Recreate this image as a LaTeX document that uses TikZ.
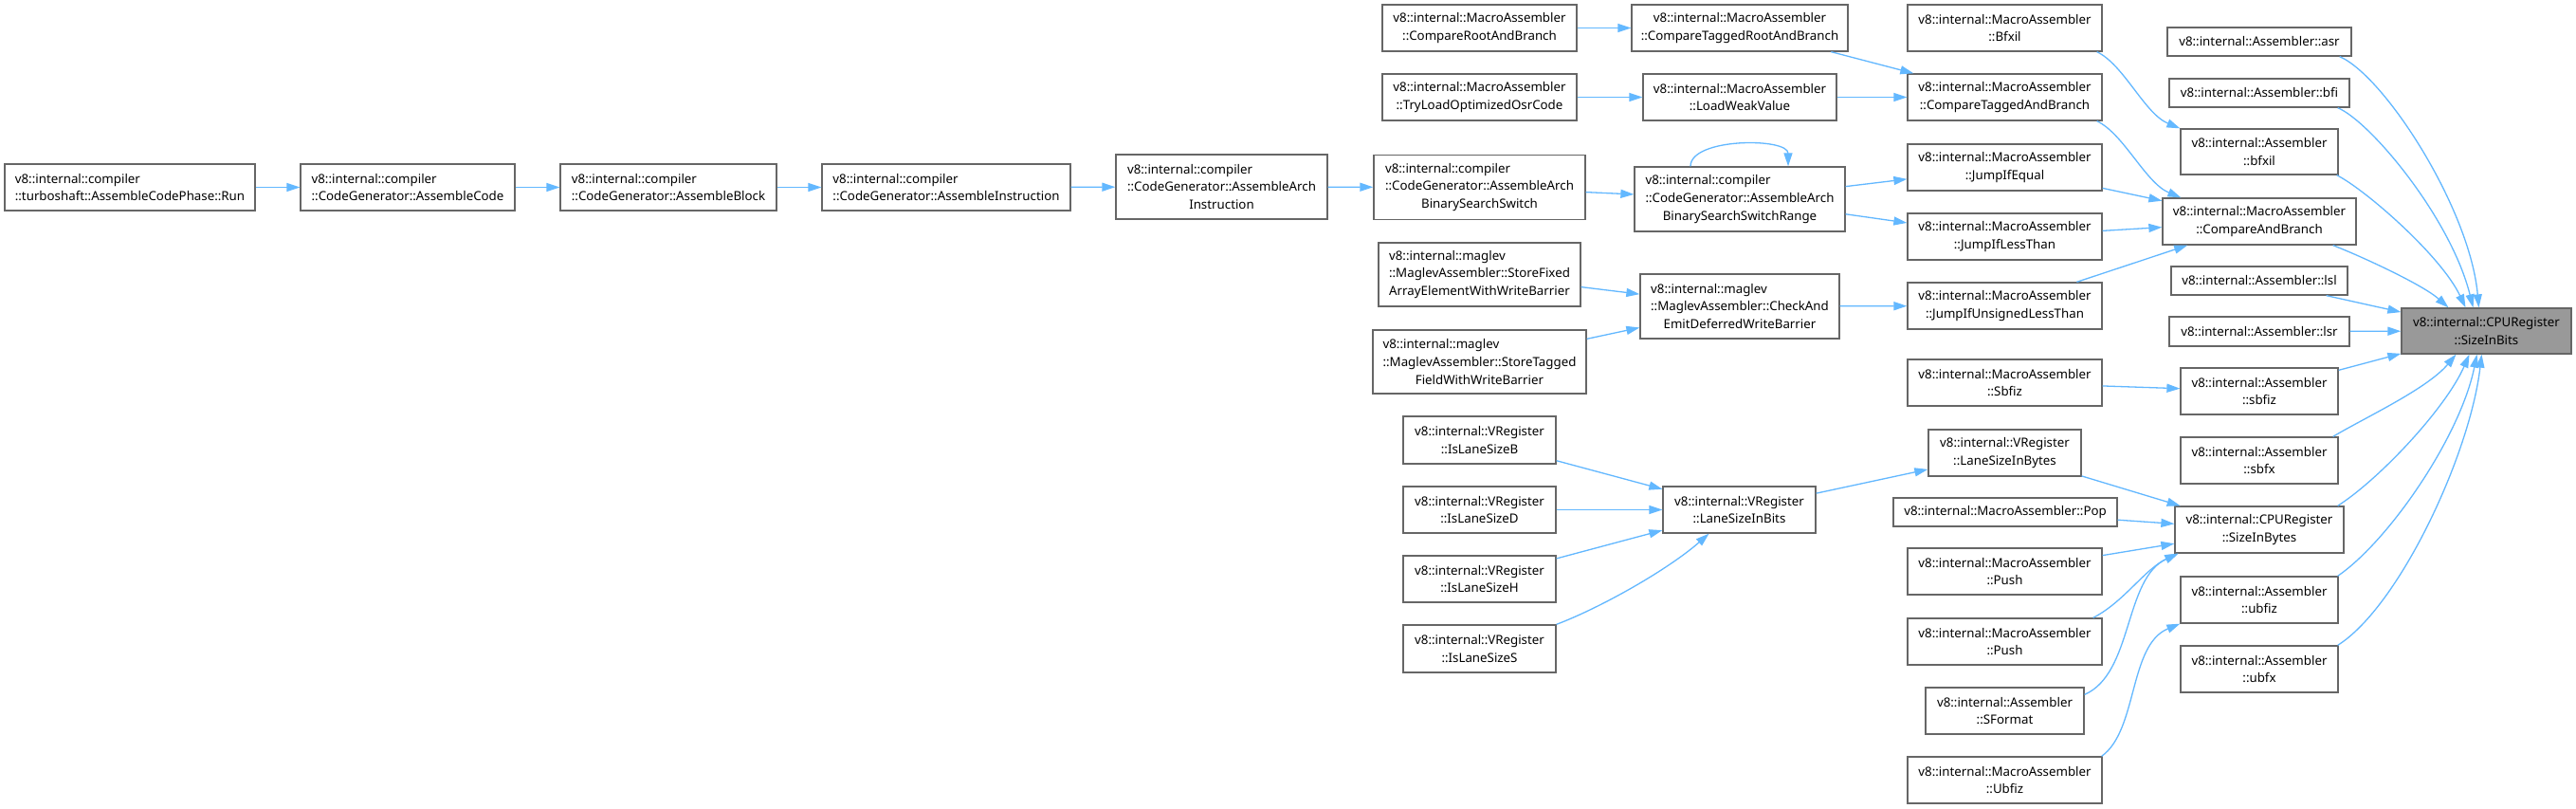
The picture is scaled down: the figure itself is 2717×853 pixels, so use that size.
\documentclass[tikz,border=0pt]{standalone}
\usepackage{fontspec}
\setmainfont{Noto Sans}
\usepackage{tikz}
\usetikzlibrary{arrows.meta}
\definecolor{edgeBlue}{RGB}{99,184,255}
\definecolor{boxGray}{RGB}{102,102,102}
\definecolor{hlGray}{RGB}{153,153,153}
\newlength\firstlinewd
\newcommand{\lalign}[2]{\settowidth{\firstlinewd}{#2}\makebox[\firstlinewd][l]{#1}}

\begin{document}
\begin{tikzpicture}[x=1pt,y=-1pt,
    fnbox/.style={draw=boxGray, line width=1.3pt, fill=white, inner sep=0pt, align=center,
      font=\fontsize{13.3}{18.7}\selectfont, minimum height=49pt},
    call/.style={draw=edgeBlue, line width=1.3pt, -{Triangle[length=14pt,width=9pt]}}]
        \fill[white] (0,0) rectangle (2717,853);
        \useasboundingbox (0,0) rectangle (2717,853);

        \node[fnbox, minimum width=264pt, align=left] (run) at (137,197.5) {v8::internal::compiler\\::turboshaft::AssembleCodePhase::Run};
        \node[fnbox, minimum width=226pt, align=left] (acode) at (430,197.5) {v8::internal::compiler\\::CodeGenerator::AssembleCode};
        \node[fnbox, minimum width=228pt, align=left] (ablock) at (705,197.5) {v8::internal::compiler\\::CodeGenerator::AssembleBlock};
        \node[fnbox, minimum width=262pt, align=left] (ainstr) at (998,197.5) {v8::internal::compiler\\::CodeGenerator::AssembleInstruction};
        \node[fnbox, minimum width=223pt, minimum height=68pt] (aarch) at (1288.5,197) {\lalign{v8::internal::compiler}{::CodeGenerator::AssembleArch}\\::CodeGenerator::AssembleArch\\Instruction};
        \node[fnbox, minimum width=223pt, minimum height=68pt] (bss) at (1560.5,197.5) {\lalign{v8::internal::compiler}{::CodeGenerator::AssembleArch}\\::CodeGenerator::AssembleArch\\BinarySearchSwitch};
        \node[fnbox, minimum width=222pt, minimum height=68pt] (bssr) at (1835,210) {\lalign{v8::internal::compiler}{::CodeGenerator::AssembleArch}\\::CodeGenerator::AssembleArch\\BinarySearchSwitchRange};

        \node[fnbox, minimum width=205pt] (crab) at (1560.5,29.5) {v8::internal::MacroAssembler\\::CompareRootAndBranch};
        \node[fnbox, minimum width=228pt] (ctrab) at (1835,29.5) {v8::internal::MacroAssembler\\::CompareTaggedRootAndBranch};
        \node[fnbox, minimum width=205pt] (tryosr) at (1560.5,102.5) {v8::internal::MacroAssembler\\::TryLoadOptimizedOsrCode};
        \node[fnbox, minimum width=204pt] (lwv) at (1835,102.5) {v8::internal::MacroAssembler\\::LoadWeakValue};
        \node[fnbox, minimum width=213pt, minimum height=67pt] (sfaewb) at (1560.5,289.5) {\lalign{v8::internal::maglev}{::MaglevAssembler::StoreFixed}\\::MaglevAssembler::StoreFixed\\ArrayElementWithWriteBarrier};
        \node[fnbox, minimum width=225pt, minimum height=67pt] (stfwb) at (1560.5,381.5) {\lalign{v8::internal::maglev}{::MaglevAssembler::StoreTagged}\\::MaglevAssembler::StoreTagged\\FieldWithWriteBarrier};
        \node[fnbox, minimum width=210pt, minimum height=68pt] (caedwb) at (1835,323) {\lalign{v8::internal::maglev}{::MaglevAssembler::CheckAnd}\\::MaglevAssembler::CheckAnd\\EmitDeferredWriteBarrier};

        \node[fnbox, minimum width=161pt, minimum height=50pt] (islb) at (1560.5,464) {v8::internal::VRegister\\::IsLaneSizeB};
        \node[fnbox, minimum width=161pt] (isld) at (1560.5,537.5) {v8::internal::VRegister\\::IsLaneSizeD};
        \node[fnbox, minimum width=161pt] (islh) at (1560.5,610.5) {v8::internal::VRegister\\::IsLaneSizeH};
        \node[fnbox, minimum width=161pt, minimum height=50pt] (isls) at (1560.5,684) {v8::internal::VRegister\\::IsLaneSizeS};
        \node[fnbox, minimum width=161pt] (lsbits) at (1834.5,537.5) {v8::internal::VRegister\\::LaneSizeInBits};

        \node[fnbox, minimum width=205pt] (bfxilm) at (2114.5,29.5) {v8::internal::MacroAssembler\\::Bfxil};
        \node[fnbox, minimum width=205pt] (ctab) at (2114.5,102.5) {v8::internal::MacroAssembler\\::CompareTaggedAndBranch};
        \node[fnbox, minimum width=205pt] (jie) at (2114.5,176.5) {v8::internal::MacroAssembler\\::JumpIfEqual};
        \node[fnbox, minimum width=205pt] (jlt) at (2114.5,249.5) {v8::internal::MacroAssembler\\::JumpIfLessThan};
        \node[fnbox, minimum width=205pt] (jult) at (2114.5,322.5) {v8::internal::MacroAssembler\\::JumpIfUnsignedLessThan};
        \node[fnbox, minimum width=205pt] (sbfizm) at (2114.5,403.5) {v8::internal::MacroAssembler\\::Sbfiz};
        \node[fnbox, minimum width=161pt] (lsbytes) at (2114.5,477.5) {v8::internal::VRegister\\::LaneSizeInBytes};
        \node[fnbox, minimum width=236pt, minimum height=30pt] (pop) at (2115,540) {v8::internal::MacroAssembler::Pop};
        \node[fnbox, minimum width=205pt] (pusha) at (2114.5,602.5) {v8::internal::MacroAssembler\\::Push};
        \node[fnbox, minimum width=205pt] (pushb) at (2114.5,676.5) {v8::internal::MacroAssembler\\::Push};
        \node[fnbox, minimum width=167pt] (sformat) at (2114.5,749.5) {v8::internal::Assembler\\::SFormat};
        \node[fnbox, minimum width=205pt] (ubfizm) at (2114.5,822.5) {v8::internal::MacroAssembler\\::Ubfiz};

        \node[fnbox, minimum width=194pt, minimum height=30pt] (asr) at (2383,44) {v8::internal::Assembler::asr};
        \node[fnbox, minimum width=190pt, minimum height=30pt] (bfi) at (2383,98) {v8::internal::Assembler::bfi};
        \node[fnbox, minimum width=166pt, minimum height=48pt] (bfxil) at (2383,160) {v8::internal::Assembler\\::bfxil};
        \node[fnbox, minimum width=204pt] (cab) at (2383,233.5) {v8::internal::MacroAssembler\\::CompareAndBranch};
        \node[fnbox, minimum width=186pt, minimum height=30pt] (lsl) at (2383,296) {v8::internal::Assembler::lsl};
        \node[fnbox, minimum width=190pt, minimum height=31pt] (lsr) at (2383,349.5) {v8::internal::Assembler::lsr};
        \node[fnbox, minimum width=166pt] (sbfiz) at (2383,412.5) {v8::internal::Assembler\\::sbfiz};
        \node[fnbox, minimum width=166pt] (sbfx) at (2383,485.5) {v8::internal::Assembler\\::sbfx};
        \node[fnbox, minimum width=178pt] (sibytes) at (2383,558.5) {v8::internal::CPURegister\\::SizeInBytes};
        \node[fnbox, minimum width=166pt] (ubfiz) at (2383,632.5) {v8::internal::Assembler\\::ubfiz};
        \node[fnbox, minimum width=166pt] (ubfx) at (2383,705.5) {v8::internal::Assembler\\::ubfx};
        \node[fnbox, fill=hlGray, minimum width=179pt, minimum height=48pt] (sibits) at (2622.5,349) {v8::internal::CPURegister\\::SizeInBits};

        \draw[call] (run) -- (acode);
        \draw[call] (acode) -- (ablock);
        \draw[call] (ablock) -- (ainstr);
        \draw[call] (ainstr) -- (aarch);
        \draw[call] (aarch) -- (bss);
        \draw[call] (bss) -- (bssr);
        \draw[call] ([xshift=-52pt]bssr.north) .. controls (1783,145) and (1886,145) .. ([xshift=51pt]bssr.north);
        \draw[call] (bssr) -- (jie);
        \draw[call] (bssr) -- (jlt);
        \draw[call] (crab) -- (ctrab);
        \draw[call] (tryosr) -- (lwv);
        \draw[call] (ctrab) -- (ctab);
        \draw[call] (lwv) -- (ctab);
        \draw[call] (sfaewb) -- (caedwb);
        \draw[call] (stfwb) -- (caedwb);
        \draw[call] (caedwb) -- (jult);
        \draw[call] (islb) -- (lsbits);
        \draw[call] (isld) -- (lsbits);
        \draw[call] (islh) -- (lsbits);
        \draw[call] (isls.north east) .. controls (1690,640) and (1760,600) .. ([xshift=-32pt]lsbits.south);
        \draw[call] (lsbits) -- (lsbytes);

        \draw[call] ([xshift=-6pt]bfxilm.south east) .. controls (2240,68) and (2262,120) .. (bfxil.north west);
        \draw[call] ([xshift=-6pt]ctab.south east) .. controls (2240,141) and (2263,193) .. ([xshift=20pt]cab.north west);
        \draw[call] (jie) -- (cab);
        \draw[call] (jlt) -- (cab);
        \draw[call] (jult) -- (cab);
        \draw[call] (sbfizm) -- (sbfiz);
        \draw[call] (lsbytes) -- (sibytes);
        \draw[call] (pop) -- (sibytes);
        \draw[call] (pusha) -- (sibytes);
        \draw[call] ([xshift=-10pt]pushb.north east) .. controls (2240,635) and (2262,600) .. ([xshift=4pt]sibytes.south west);
        \draw[call] ([yshift=-8pt]sformat.north east) .. controls (2250,710) and (2240,610) .. ([xshift=4pt]sibytes.south west);
        \draw[call] ([xshift=-1pt]ubfizm.north east) .. controls (2255,770) and (2245,680) .. (ubfiz.south west);

        \draw[call] ([xshift=-13pt]asr.south east) .. controls (2515,80) and (2605,220) .. ([xshift=-8pt]sibits.north);
        \draw[call] ([xshift=-13pt]bfi.south east) .. controls (2500,128) and (2585,230) .. ([xshift=-14pt]sibits.north);
        \draw[call] ([xshift=-2pt]bfxil.south east) .. controls (2495,200) and (2575,270) .. ([xshift=-22pt]sibits.north);
        \draw[call] ([xshift=-25pt]cab.south east) .. controls (2490,270) and (2555,300) .. ([xshift=-40pt]sibits.north);
        \draw[call] (lsl) -- (sibits);
        \draw[call] (lsr) -- (sibits);
        \draw[call] (sbfiz) -- (sibits);
        \draw[call] ([xshift=-6pt]sbfx.north east) .. controls (2495,440) and (2560,410) .. ([xshift=-32pt]sibits.south);
        \draw[call] ([xshift=-7pt]sibytes.north east) .. controls (2510,505) and (2580,430) .. ([xshift=-18pt]sibits.south);
        \draw[call] ([xshift=-1pt]ubfiz.north east) .. controls (2520,570) and (2595,460) .. ([xshift=-10pt]sibits.south);
        \draw[call] ([xshift=-1pt]ubfx.north east) .. controls (2530,640) and (2605,480) .. ([xshift=-5pt]sibits.south);
      \end{tikzpicture}
\end{document}
